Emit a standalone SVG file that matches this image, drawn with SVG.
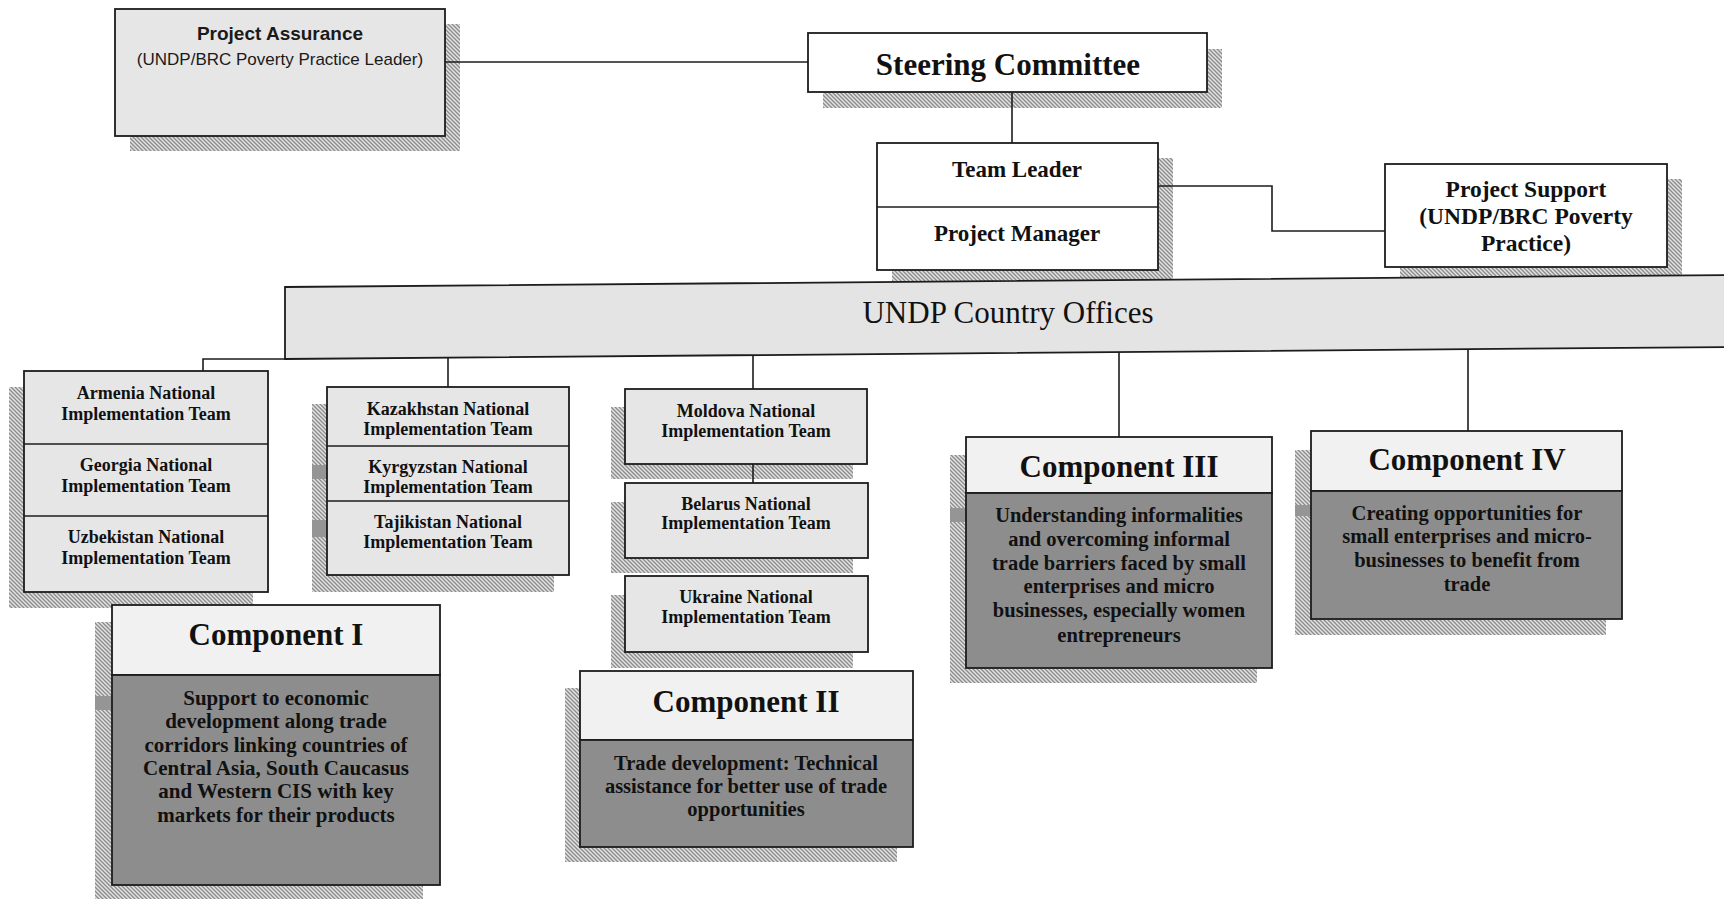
<svg xmlns="http://www.w3.org/2000/svg" width="1724" height="899" viewBox="0 0 1724 899">
<defs>
<pattern id="hatch" patternUnits="userSpaceOnUse" width="4" height="4">
<rect width="4" height="4" fill="#e2e2e2"/>
<path d="M-1,-1 L5,5 M-1,3 L1,5 M3,-1 L5,1" stroke="#8a8a8a" stroke-width="1.3"/>
</pattern>
</defs>
<style>
.sh{fill:url(#hatch)}
.box{stroke:#1c1c1c;stroke-width:1.8}
.w{fill:#ffffff}
.lt{fill:#e6e6e6}
.hd{fill:#f1f1f1}
.dk{fill:#8d8d8d}
.sq{fill:#959595}
.ln{stroke:#1c1c1c;stroke-width:1.6;fill:none}
.s{font-family:"Liberation Sans",Arial,sans-serif;text-anchor:middle;fill:#1a1a1a}
.r{font-family:"Liberation Serif","Times New Roman",serif;text-anchor:middle;fill:#111}
.b{font-weight:bold}
.nat{font-size:18px}
.hdr{font-size:31px}
.body{font-size:20.5px}
.mid{font-size:23px}
</style>

<g id="project-assurance">
<rect class="sh" x="130" y="24" width="330" height="127"/>
<rect class="box lt" x="115" y="9" width="330" height="127"/>
<text class="s b" x="280" y="40" font-size="19">Project Assurance</text>
<text class="s" x="280" y="65" font-size="17">(UNDP/BRC Poverty Practice Leader)</text>
</g>

<g id="steering-committee">
<rect class="sh" x="823" y="49" width="399" height="59"/>
<rect class="box w" x="808" y="33" width="399" height="59"/>
<text class="r b" x="1008" y="75" font-size="31">Steering Committee</text>
</g>

<g id="team-leader">
<rect class="sh" x="892" y="158" width="281" height="128"/>
<rect class="box w" x="877" y="143" width="281" height="127"/>
<line class="ln" x1="877" y1="207" x2="1158" y2="207"/>
<text class="r b mid" x="1017" y="177">Team Leader</text>
<text class="r b mid" x="1017" y="241">Project Manager</text>
</g>

<g id="project-support">
<rect class="sh" x="1400" y="179" width="282" height="103"/>
<rect class="box w" x="1385" y="164" width="282" height="103"/>
<text class="r b" x="1526" y="197" font-size="23.5">Project Support</text>
<text class="r b" x="1526" y="224" font-size="23.5">(UNDP/BRC Poverty</text>
<text class="r b" x="1526" y="251" font-size="23.5">Practice)</text>
</g>

<g id="undp-country-offices">
<polygon class="box" fill="#e4e4e4" points="285,287 1730,275 1730,347 285,359"/>
<text class="r" x="1008" y="323" font-size="31">UNDP Country Offices</text>
</g>

<g id="armenia-georgia-uzbekistan">
<rect class="sh" x="9" y="387" width="244" height="221"/>
<rect class="box lt" x="24" y="371" width="244" height="221"/>
<line class="ln" x1="24" y1="444" x2="268" y2="444"/>
<line class="ln" x1="24" y1="516" x2="268" y2="516"/>
<text class="r b nat" x="146" y="399">Armenia National</text>
<text class="r b nat" x="146" y="420">Implementation Team</text>
<text class="r b nat" x="146" y="471">Georgia National</text>
<text class="r b nat" x="146" y="492">Implementation Team</text>
<text class="r b nat" x="146" y="543">Uzbekistan National</text>
<text class="r b nat" x="146" y="564">Implementation Team</text>
</g>

<g id="kazakhstan-kyrgyzstan-tajikistan">
<rect class="sh" x="312" y="404" width="242" height="188"/>
<rect class="sq" x="312" y="465" width="15" height="14"/>
<rect class="sq" x="312" y="520" width="15" height="17"/>
<rect class="box lt" x="327" y="387" width="242" height="188"/>
<line class="ln" x1="327" y1="446" x2="569" y2="446"/>
<line class="ln" x1="327" y1="501" x2="569" y2="501"/>
<text class="r b nat" x="448" y="415">Kazakhstan National</text>
<text class="r b nat" x="448" y="435">Implementation Team</text>
<text class="r b nat" x="448" y="473">Kyrgyzstan National</text>
<text class="r b nat" x="448" y="493">Implementation Team</text>
<text class="r b nat" x="448" y="528">Tajikistan National</text>
<text class="r b nat" x="448" y="548">Implementation Team</text>
</g>

<g id="moldova">
<rect class="sh" x="611" y="407" width="242" height="72"/>
<rect class="box lt" x="625" y="389" width="242" height="75"/>
<text class="r b nat" x="746" y="417">Moldova National</text>
<text class="r b nat" x="746" y="437">Implementation Team</text>
</g>

<g id="belarus">
<rect class="sh" x="611" y="502" width="242" height="71"/>
<rect class="box lt" x="625" y="483" width="243" height="75"/>
<text class="r b nat" x="746" y="510">Belarus National</text>
<text class="r b nat" x="746" y="529">Implementation Team</text>
</g>

<g id="ukraine">
<rect class="sh" x="611" y="595" width="242" height="73"/>
<rect class="box lt" x="625" y="576" width="243" height="76"/>
<text class="r b nat" x="746" y="603">Ukraine National</text>
<text class="r b nat" x="746" y="623">Implementation Team</text>
</g>

<g id="component-1">
<rect class="sh" x="95" y="622" width="328" height="277"/>
<rect class="sq" x="95" y="696" width="17" height="14"/>
<rect class="box hd" x="112" y="605" width="328" height="70"/>
<rect class="box dk" x="112" y="675" width="328" height="210"/>
<text class="r b hdr" x="276" y="645">Component I</text>
<text class="r b" font-size="21" x="276" y="705">Support to economic</text>
<text class="r b" font-size="21" x="276" y="728">development along trade</text>
<text class="r b" font-size="21" x="276" y="752">corridors linking countries of</text>
<text class="r b" font-size="21" x="276" y="775">Central Asia, South Caucasus</text>
<text class="r b" font-size="21" x="276" y="798">and Western CIS with key</text>
<text class="r b" font-size="21" x="276" y="822">markets for their products</text>
</g>

<g id="component-2">
<rect class="sh" x="565" y="688" width="332" height="174"/>
<rect class="box hd" x="580" y="671" width="333" height="69"/>
<rect class="box dk" x="580" y="740" width="333" height="107"/>
<text class="r b hdr" x="746" y="712">Component II</text>
<text class="r b body" x="746" y="770">Trade development: Technical</text>
<text class="r b body" x="746" y="793">assistance for better use of trade</text>
<text class="r b body" x="746" y="816">opportunities</text>
</g>

<g id="component-3">
<rect class="sh" x="950" y="455" width="307" height="228"/>
<rect class="sq" x="950" y="508" width="16" height="14"/>
<rect class="box hd" x="966" y="437" width="306" height="56"/>
<rect class="box dk" x="966" y="493" width="306" height="175"/>
<text class="r b hdr" x="1119" y="477">Component III</text>
<text class="r b body" x="1119" y="522">Understanding informalities</text>
<text class="r b body" x="1119" y="546">and overcoming informal</text>
<text class="r b body" x="1119" y="570">trade barriers faced by small</text>
<text class="r b body" x="1119" y="593">enterprises and micro</text>
<text class="r b body" x="1119" y="617">businesses, especially women</text>
<text class="r b body" x="1119" y="642">entrepreneurs</text>
</g>

<g id="component-4">
<rect class="sh" x="1295" y="450" width="311" height="185"/>
<rect class="sq" x="1295" y="505" width="16" height="11"/>
<rect class="box hd" x="1311" y="431" width="311" height="60"/>
<rect class="box dk" x="1311" y="491" width="311" height="128"/>
<text class="r b hdr" x="1467" y="470">Component IV</text>
<text class="r b body" x="1467" y="520">Creating opportunities for</text>
<text class="r b body" x="1467" y="543">small enterprises and micro-</text>
<text class="r b body" x="1467" y="567">businesses to benefit from</text>
<text class="r b body" x="1467" y="591">trade</text>
</g>

<g id="connectors">
<line class="ln" x1="445" y1="62" x2="808" y2="62"/>
<line class="ln" x1="1012" y1="92" x2="1012" y2="143"/>
<polyline class="ln" points="1158,186 1272,186 1272,231 1385,231"/>
<polyline class="ln" points="285,359 203,359 203,371"/>
<line class="ln" x1="448" y1="358" x2="448" y2="387"/>
<line class="ln" x1="753" y1="355" x2="753" y2="389"/>
<line class="ln" x1="753" y1="464" x2="753" y2="483"/>
<line class="ln" x1="1119" y1="352" x2="1119" y2="437"/>
<line class="ln" x1="1468" y1="349" x2="1468" y2="431"/>
</g>
</svg>
